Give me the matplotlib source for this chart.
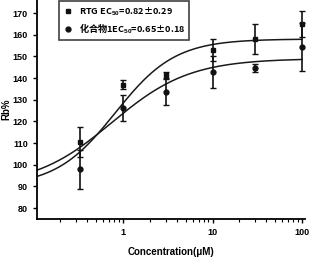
import numpy as np
import matplotlib.pyplot as plt
from matplotlib.lines import Line2D

plt.rcParams['font.family'] = ['Liberation Sans', 'Noto Sans CJK SC', 'DejaVu Sans']
plt.rcParams['mathtext.fontset'] = 'custom'
plt.rcParams['mathtext.rm'] = 'Liberation Sans:bold'
plt.rcParams['mathtext.it'] = 'Liberation Sans:bold'
plt.rcParams['mathtext.bf'] = 'Liberation Sans:bold'

conc = [0.33, 1, 3, 10, 30, 100]

# RTG (squares)
rtg_mean = [110.5, 137, 141.4, 153, 158, 165]
rtg_err = [7, 2, 1.5, 5, 7, 6]
# compound 1 (circles)
cpd_mean = [98, 126, 133.5, 142.8, 144.6, 154.3]
cpd_err = [9, 6, 6, 7.5, 2, 11]

# fitted 4-parameter logistic curves: bottom, top, ec50, hill
rtg_fit = (90, 158, 0.82, 1.3)
cpd_fit = (90, 149, 0.75, 1.0)

labels = ['RTG EC$_{50}$=0.82±0.29', '化合物1EC$_{50}$=0.65±0.18']


def logistic(x, bottom, top, ec50, hill):
    return bottom + (top - bottom) / (1 + (ec50 / x) ** hill)


fig = plt.figure(figsize=(3.1, 2.57), dpi=100)
ax = fig.add_axes([0.119, 0.148, 0.865, 0.852])

xs = np.logspace(np.log10(0.11), np.log10(100), 200)
ax.plot(xs, logistic(xs, *rtg_fit), color='#1a1a1a', lw=1.1)
ax.plot(xs, logistic(xs, *cpd_fit), color='#1a1a1a', lw=1.1)

ax.errorbar(conc, rtg_mean, yerr=rtg_err, fmt='s', color='#111111', ms=3.5,
            elinewidth=1.2, capsize=2, capthick=1.0)
ax.errorbar(conc, cpd_mean, yerr=cpd_err, fmt='o', color='#111111', ms=3.5,
            elinewidth=1.2, capsize=2, capthick=1.0)

ax.set_xscale('log')
ax.set_xlim(0.109, 108)
ax.set_ylim(75, 176)
ax.set_yticks([80, 90, 100, 110, 120, 130, 140, 150, 160, 170])
ax.set_xticks([1, 10, 100])
ax.set_xticklabels(['1', '10', '100'])

for s in ['top', 'right']:
    ax.spines[s].set_visible(False)
for s in ['left', 'bottom']:
    ax.spines[s].set_linewidth(1.3)
ax.tick_params(axis='both', which='major', direction='out', length=3, width=1,
               labelsize=6.5)
ax.tick_params(axis='x', which='minor', direction='out', length=2, width=0.8)
for lab in ax.get_xticklabels() + ax.get_yticklabels():
    lab.set_fontweight('bold')

ax.set_ylabel('Rb%', fontsize=7, fontweight='bold', labelpad=1)
ax.set_xlabel('Concentration(μM)', fontsize=7, fontweight='bold', labelpad=7)

handles = [
    Line2D([0], [0], marker='s', color='w', markerfacecolor='#111111',
           markeredgecolor='#111111', markersize=3.5, label=labels[0]),
    Line2D([0], [0], marker='o', color='w', markerfacecolor='#111111',
           markeredgecolor='#111111', markersize=3.5, label=labels[1]),
]
leg = ax.legend(handles=handles, loc='upper left', bbox_to_anchor=(0.065, 1.015),
                frameon=True, fancybox=False, edgecolor='#111111',
                handlelength=1.0, handletextpad=0.7, borderpad=0.45,
                labelspacing=0.35,
                prop={'family': 'Noto Sans CJK SC', 'weight': 'bold', 'size': 6.6})
leg.get_frame().set_linewidth(1.2)

fig.savefig('out.png', dpi=100)
